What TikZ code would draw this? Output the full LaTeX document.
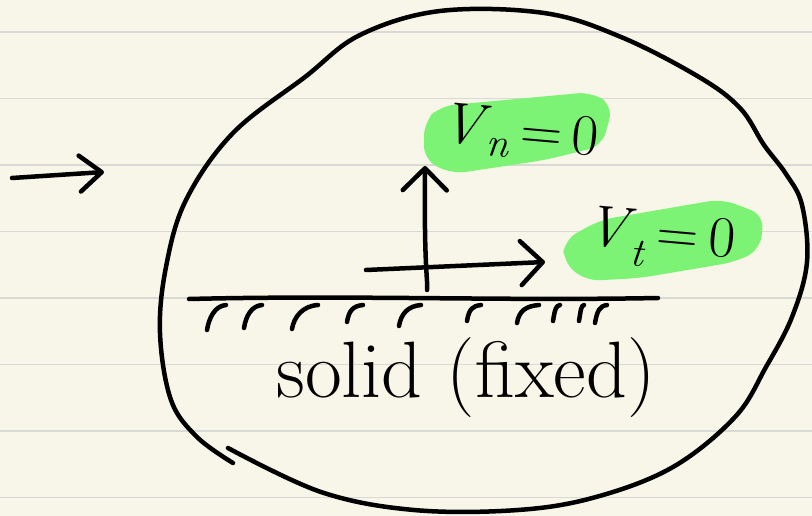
\documentclass[tikz,border=0pt]{standalone}
\usepackage{amsmath}
\usepackage{tikz}
\usetikzlibrary{arrows.meta, positioning}

\definecolor{paper}{HTML}{F8F6E8}
\definecolor{ruleline}{HTML}{D9D9D5}
\definecolor{marker}{HTML}{7DF375}

\newcommand{\vel}[1]{\textit{V}\kern-0.05em\textsubscript{\textit{#1}}\,=\,0}

\tikzset{
  ink/.style={line width=4.5pt, line cap=round, line join=round, black},
  inkarrow/.style={ink, -{Straight Barb[length=22pt, width=44pt, round]}},
  hatch/.style={line width=4.5pt, line cap=round},
  hilite/.style={fill=marker, rounded corners=14pt},
  label/.style={inner sep=0pt, font=\fontsize{58}{62}\selectfont}
}

\begin{document}
\begin{tikzpicture}[x=1pt, y=-1pt]
        \useasboundingbox (0,0) rectangle (812,516);
        % Paper and ruling
        \fill[paper] (0,0) rectangle (812,516);
        \foreach \k in {0,...,7}
          \draw[ruleline, line width=1.6pt] (0,32+66.5*\k) -- (812,32+66.5*\k);
        % Highlights
        \fill[hilite] (424,122) -- (440,106) -- (592,92) -- (613,106) -- (602,146)
          -- (545,160) -- (452,174) -- (424,160) -- cycle;
        \fill[hilite] (564,240) -- (600,220) -- (722,199) -- (764,215) -- (760,250)
          -- (735,262) -- (640,278) -- (586,281) -- (563,262) -- cycle;
        % Boundary blob
        \draw[ink] plot[smooth, tension=0.6] coordinates {(228,448) (321,492) (414,510)
          (518,510) (596,497) (673,467) (735,417) (766,367) (792,317) (807,262)
          (802,205) (786,174) (764,145) (740,108) (699,77) (621,37) (544,13) (440,11)
          (360,35) (305,77) (233,133) (186,200) (166,267) (160,333) (171,400)
          (197,437) (233,463)};
        % Wall
        \coordinate (wallL) at (189,299);
        \coordinate (wallR) at (658,298);
        \draw[ink] (wallL) .. controls (350,295) and (500,301) .. (wallR);
        \foreach \x/\yb/\w in {207/330/19, 244/328/18, 292/329/26, 347/322/16,
            399/326/22, 467/321/14, 517/323/22, 553/321/7, 579/321/5, 595/323/12}
          \draw[hatch] (\x,\yb) .. controls (\x+2,\yb-12) and (\x+0.4*\w,306) .. (\x+\w,305);
        % Velocity arrows
        \coordinate (nfoot) at (427,290);
        \coordinate (ntip) at (425,166);
        \coordinate (tstart) at (366,270);
        \coordinate (ttip) at (545,262);
        \draw[inkarrow] (nfoot) .. controls (428,278) and (424,272) .. (ntip);
        \draw[inkarrow] (tstart) -- (ttip);
        % Incoming flow
        \coordinate (inL) at (12,178);
        \coordinate (inR) at (104,172);
        \draw[ink, -{Straight Barb[length=22pt, width=36pt, round]}] (inL) -- (inR);
        % Labels
        \node[label, rotate=-5] (vn) at (520,134) {\vel{n}};
        \node[label, rotate=-5] (vt) at (660,240) {\vel{t}};
        \node[inner sep=0pt, font=\fontsize{80}{88}\selectfont] (solid) at (466,378) {solid (fixed)};
      \end{tikzpicture}
\end{document}
